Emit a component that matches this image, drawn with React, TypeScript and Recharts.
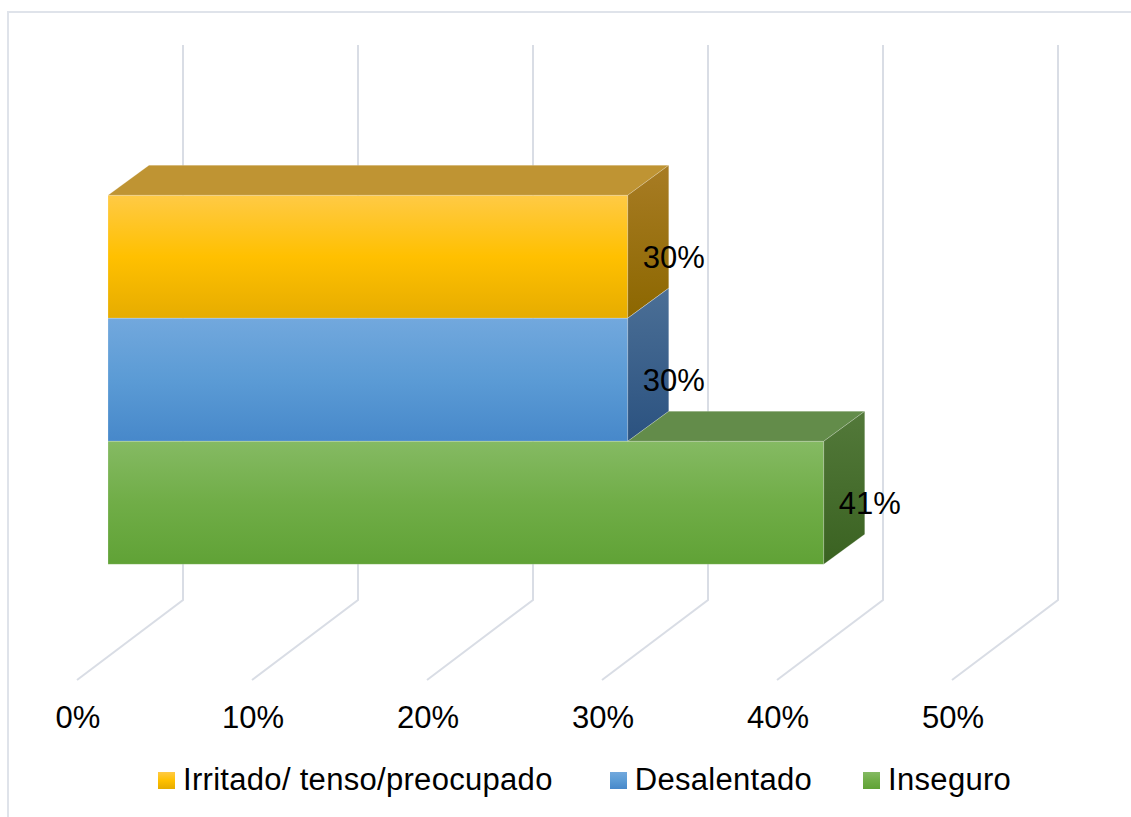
import { BarChart, Bar, XAxis, YAxis, CartesianGrid, Legend, LabelList } from 'recharts'

const categories = ['Estado']
const seriesNames = ['Irritado/ tenso/preocupado', 'Desalentado', 'Inseguro']
const seriesKeys = ['irritado', 'desalentado', 'inseguro']
const seriesValues = [0.297, 0.297, 0.409]
const xTicks = [0, 0.1, 0.2, 0.3, 0.4, 0.5]

const data = categories.map((c) => {
  const row: { [key: string]: string | number } = { name: c }
  seriesKeys.forEach((k, i) => {
    row[k] = seriesValues[i]
  })
  return row
})

const font = '"Liberation Sans", Arial, sans-serif'
const DX = 41
const DY = 30

const palette = [
  { light: '#ffca45', mid: '#ffc000', dark: '#e6ac00', top: '#bf9433', sideA: '#a87c24', sideB: '#8c6700' },
  { light: '#72a8dd', mid: '#5b9bd5', dark: '#4788ca', top: '#4a6f98', sideA: '#4b6f96', sideB: '#2b5280' },
  { light: '#85ba63', mid: '#70ad47', dark: '#60a236', top: '#638c4a', sideA: '#53793a', sideB: '#3a6221' },
]

// the bar sitting above each series (hides part of its top face)
const coverOf: { [key: string]: string | null } = {
  irritado: null,
  desalentado: 'irritado',
  inseguro: 'desalentado',
}

function Box3D(props: any) {
  const { x, y, width, height, payload, idx } = props
  const key = seriesKeys[idx]
  const right = x + width
  let xs = x
  const cover = coverOf[key]
  if (cover && payload[key]) {
    xs = Math.min(right, x + (payload[cover] as number) * (width / (payload[key] as number)))
  }
  const edge = 'rgba(255,255,255,0.25)'
  return (
    <g>
      <rect x={x} y={y} width={width} height={height} fill={`url(#front${idx})`} stroke={edge} strokeWidth={0.8} />
      <polygon
        points={`${xs},${y} ${right},${y} ${right + DX},${y - DY} ${xs + DX},${y - DY}`}
        fill={palette[idx].top}
        stroke={edge}
        strokeWidth={0.8}
      />
      <polygon
        points={`${right},${y} ${right + DX},${y - DY} ${right + DX},${y + height - DY} ${right},${y + height}`}
        fill={`url(#side${idx})`}
        stroke={edge}
        strokeWidth={0.8}
      />
    </g>
  )
}

function GridLine(props: any) {
  const { x1, y1, y2 } = props
  const d = `M${x1 + 75},${y1 - 57} V${y2 - 57} L${x1 - 31},${y2 + 23}`
  return <path key={props.key ?? `g${props.index}`} d={d} fill="none" stroke="#d9dde5" strokeWidth={2} />
}

function AxisTick(props: any) {
  const { x, y, payload } = props
  return (
    <text x={x - 30} y={y + 71} textAnchor="middle" fontSize={31} fontFamily={font} fill="#000">
      {`${Math.round(payload.value * 100)}%`}
    </text>
  )
}

function LegendBox() {
  return (
    <div style={{ display: 'flex', alignItems: 'center', paddingLeft: 158, fontFamily: font, fontSize: 31, color: '#000' }}>
      {seriesNames.map((n, i) => (
        <div key={n} style={{ display: 'flex', alignItems: 'center', marginRight: i === 0 ? 57 : 51 }}>
          <span
            style={{
              width: 17,
              height: 17,
              marginRight: 8,
              background: `linear-gradient(${palette[i].light}, ${palette[i].mid}, ${palette[i].dark})`,
            }}
          />
          <span style={{ whiteSpace: 'nowrap', letterSpacing: 0.3 }}>{n}</span>
        </div>
      ))}
    </div>
  )
}

export default function App() {
  return (
    <div style={{ position: 'absolute', left: 0, top: 0, width: 1131, height: 817, overflow: 'hidden', background: '#fff' }}>
      <div
        style={{
          position: 'absolute',
          left: 7,
          top: 11,
          width: 1200,
          height: 900,
          border: '2px solid #dfe3ea',
        }}
      />
      <div style={{ position: 'absolute', left: 0, top: 0 }}>
        <BarChart
          width={1131}
          height={817}
          data={data}
          layout="vertical"
          margin={{ top: 102, right: 148, bottom: 90, left: 108 }}
          barCategoryGap="16.8%"
          barGap={0}
        >
          <defs>
            {palette.map((p, i) => (
              <linearGradient key={`f${i}`} id={`front${i}`} x1="0" y1="0" x2="0" y2="1">
                <stop offset="0%" stopColor={p.light} />
                <stop offset="50%" stopColor={p.mid} />
                <stop offset="100%" stopColor={p.dark} />
              </linearGradient>
            ))}
            {palette.map((p, i) => (
              <linearGradient key={`s${i}`} id={`side${i}`} x1="0" y1="0" x2="0" y2="1">
                <stop offset="0%" stopColor={p.sideA} />
                <stop offset="100%" stopColor={p.sideB} />
              </linearGradient>
            ))}
          </defs>
          <CartesianGrid horizontal={false} vertical={(p: any) => <GridLine {...p} />} />
          <XAxis
            type="number"
            domain={[0, 0.5]}
            ticks={xTicks}
            height={30}
            axisLine={false}
            tickLine={false}
            tickSize={0}
            tickMargin={0}
            tick={(p: any) => <AxisTick {...p} />}
            interval={0}
          />
          <YAxis type="category" dataKey="name" hide width={0} />
          <Legend
            verticalAlign="bottom"
            content={<LegendBox />}
            wrapperStyle={{ position: 'absolute', left: 0, top: 762, width: 1131, height: 40 }}
          />
          {seriesKeys.map((k, i) => (
            <Bar
              key={k}
              dataKey={k}
              name={seriesNames[i]}
              fill={palette[i].mid}
              isAnimationActive={false}
              shape={(p: any) => <Box3D {...p} idx={i} />}
            >
              <LabelList
                dataKey={k}
                position="right"
                offset={15}
                formatter={(v: any) => `${Math.round(Number(v) * 100)}%`}
                style={{ fontSize: 31, fontFamily: font, fill: '#000' }}
              />
            </Bar>
          ))}
        </BarChart>
      </div>
    </div>
  )
}
